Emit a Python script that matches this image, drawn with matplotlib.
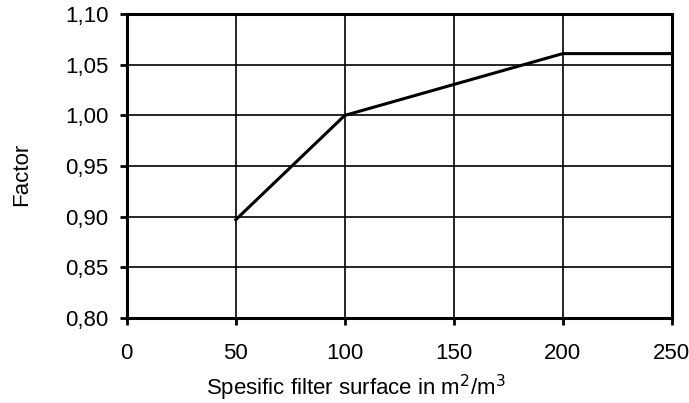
import matplotlib
matplotlib.use("Agg")
import matplotlib.pyplot as plt
from matplotlib.ticker import FuncFormatter

# filter surface (m2/m3) vs correction factor
surface = [50, 100, 200, 250]
factor = [0.897, 1.00, 1.061, 1.061]

x_ticks = [0, 50, 100, 150, 200, 250]
y_ticks = [0.80, 0.85, 0.90, 0.95, 1.00, 1.05, 1.10]

plt.rcParams['font.family'] = ['Liberation Sans', 'DejaVu Sans']

fig = plt.figure(figsize=(6.89, 4.03), dpi=100)
ax = fig.add_axes([0.184, 0.211, 0.791, 0.754])

ax.plot(surface, factor, color='black', linewidth=2.2, solid_joinstyle='miter', zorder=3)

ax.set_xlim(0, 250)
ax.set_ylim(0.80, 1.10)
ax.set_xticks(x_ticks)
ax.set_yticks(y_ticks)
ax.yaxis.set_major_formatter(FuncFormatter(lambda v, p: ("%.2f" % v).replace('.', ',')))

ax.grid(True, color='black', linewidth=1.2)
ax.set_axisbelow(True)
for s in ax.spines.values():
    s.set_linewidth(2.2)
ax.tick_params(direction='out', length=5, width=2, labelsize=16, pad=8)
ax.tick_params(axis='x', pad=13)

ax.set_xlabel("Spesific filter surface in m$^2$/m$^3$", fontsize=16)
ax.set_ylabel("Factor", fontsize=16)
# labels sit a bit off-centre in the original
ax.xaxis.set_label_coords(0.42, -0.182)
ax.yaxis.set_label_coords(-0.173, 0.474)

fig.savefig("out.png", dpi=100)
